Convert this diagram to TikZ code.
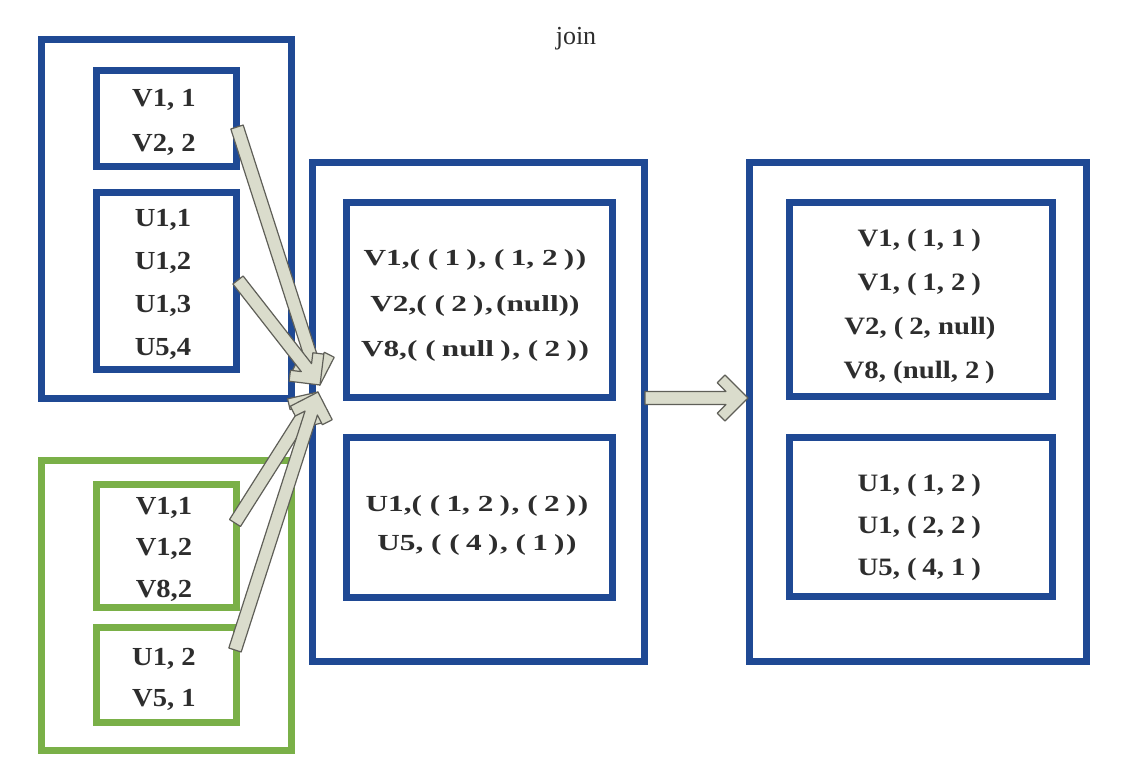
\documentclass[tikz,border=0pt]{standalone}
\usepackage{fontspec}
\setmainfont{Liberation Serif}
\usepackage{graphicx}
\usetikzlibrary{calc}
\definecolor{bxblue}{RGB}{31,73,148}
\definecolor{bxgreen}{RGB}{122,176,72}
\definecolor{txt}{RGB}{45,45,45}
\definecolor{arrfill}{RGB}{218,220,204}
\definecolor{arrline}{RGB}{95,95,88}
\newcommand\lp{\hspace{.25em}(\hspace{.2em}}
\newcommand\rp{\hspace{.2em})\hspace{.05em}}
\newcommand\wx[2]{\scalebox{#1}[1]{#2}}
\newcommand\fatarrow[4]{%
  \path let \p1=($(#2)-(#1)$) in \pgfextra{%
    \pgfmathsetmacro\faA{atan2(\y1,\x1)}\global\let\faA\faA
    \pgfmathsetmacro\faL{veclen(\x1,\y1)}\global\let\faL\faL};
  \begin{scope}[shift={(#1)},rotate=\faA]
    \pgfmathsetmacro\faB{\faL-#4*1.4142-6.5}
    \pgfmathsetmacro\faC{\faL-#3-#4*0.7071}
    \pgfmathsetmacro\faD{#3-#4*0.7071}
    \pgfmathsetmacro\faE{\faL-#3}
    \draw[fatarr] (0,-6.5) -- (\faB,-6.5) -- (\faC,-\faD) -- (\faE,-#3) -- (\faL,0)
      -- (\faE,#3) -- (\faC,\faD) -- (\faB,6.5) -- (0,6.5) -- cycle;
  \end{scope}}
\tikzset{
  bluebox/.style={draw=bxblue, line width=7pt},
  greenbox/.style={draw=bxgreen, line width=7pt},
  fatarr/.style={draw=arrline, fill=arrfill, line width=1.2pt, line join=round},
  lefttxt/.style={align=center, text=txt, inner sep=0pt},
  midtxt/.style={align=center, text=txt, inner sep=0pt},
  righttxt/.style={align=center, text=txt, inner sep=0pt},
}
\begin{document}
\begin{tikzpicture}[x=1pt,y=-1pt]
\useasboundingbox[fill=white] (0,0) rectangle (1138,768);
% left blue group
\draw[bluebox] (41,40) rectangle (291,398);
\draw[bluebox] (96,71) rectangle (236,166);
\draw[bluebox] (96,192) rectangle (236,369);
% left green group
\draw[greenbox] (41,460) rectangle (291,750);
\draw[greenbox] (96,484) rectangle (236,607);
\draw[greenbox] (96,627) rectangle (236,722);
% middle group
\draw[bluebox] (312,162) rectangle (644,661);
\draw[bluebox] (346,202) rectangle (612,397);
\draw[bluebox] (346,437) rectangle (612,597);
% right group
\draw[bluebox] (749,162) rectangle (1086,661);
\draw[bluebox] (789,202) rectangle (1052,396);
\draw[bluebox] (789,437) rectangle (1052,596);

\node[text=txt] (join) at (576,39) {\fontsize{26}{30}\selectfont join};

\node[lefttxt, font=\fontsize{26}{45}\selectfont\bfseries] (lv) at (164,122.5)
  {\wx{1.1}{V1, 1}\\\wx{1.1}{V2, 2}};
\node[lefttxt, font=\fontsize{26}{43}\selectfont\bfseries] (lu) at (163,284.5)
  {\wx{1.1}{U1,1}\\\wx{1.1}{U1,2}\\\wx{1.1}{U1,3}\\\wx{1.1}{U5,4}};
\node[lefttxt, font=\fontsize{26}{41.5}\selectfont\bfseries] (gv) at (164,549)
  {\wx{1.1}{V1,1}\\\wx{1.1}{V1,2}\\\wx{1.1}{V8,2}};
\node[lefttxt, font=\fontsize{26}{41}\selectfont\bfseries] (gu) at (164,679.5)
  {\wx{1.1}{U1, 2}\\\wx{1.1}{V5, 1}};

\node[midtxt, font=\fontsize{23}{45.5}\selectfont\bfseries] (mv) at (475,305.5)
  {\wx{1.36}{V1,(\lp 1\rp,\lp 1, 2\rp)}\\
   \wx{1.36}{V2,(\lp 2\rp,\hspace{.1em}(null))}\\
   \wx{1.36}{V8,(\lp null\rp,\lp 2\rp)}};
\node[midtxt, font=\fontsize{23}{39}\selectfont\bfseries] (mu) at (477,525)
  {\wx{1.36}{U1,(\lp 1, 2\rp,\lp 2\rp)}\\
   \wx{1.36}{U5, (\lp 4\rp,\lp 1\rp)}};

\node[righttxt, font=\fontsize{25}{44}\selectfont\bfseries] (rv) at (920,306)
  {\wx{1.15}{V1,\lp 1, 1\rp}\\
   \wx{1.15}{V1,\lp 1, 2\rp}\\
   \wx{1.15}{V2,\lp 2, null)}\\
   \wx{1.15}{V8,\hspace{.25em}(null, 2\rp}};
\node[righttxt, font=\fontsize{25}{42}\selectfont\bfseries] (ru) at (920,527)
  {\wx{1.15}{U1,\lp 1, 2\rp}\\
   \wx{1.15}{U1,\lp 2, 2\rp}\\
   \wx{1.15}{U5,\lp 4, 1\rp}};

% arrow end points
\coordinate (t1) at (237,127);
\coordinate (t2) at (238,280);
\coordinate (t3) at (235,523);
\coordinate (t4) at (235,650);
\coordinate (hin) at (320,385);
\coordinate (hup) at (318,392);
\coordinate (t5) at (645,398);
\coordinate (h5) at (748,398);

\fatarrow{t1}{hin}{22}{11}
\fatarrow{t2}{hin}{22}{11}
\fatarrow{t3}{hup}{22}{11}
\fatarrow{t4}{hup}{22}{11}
\fatarrow{t5}{h5}{23}{11}
\end{tikzpicture}
\end{document}
